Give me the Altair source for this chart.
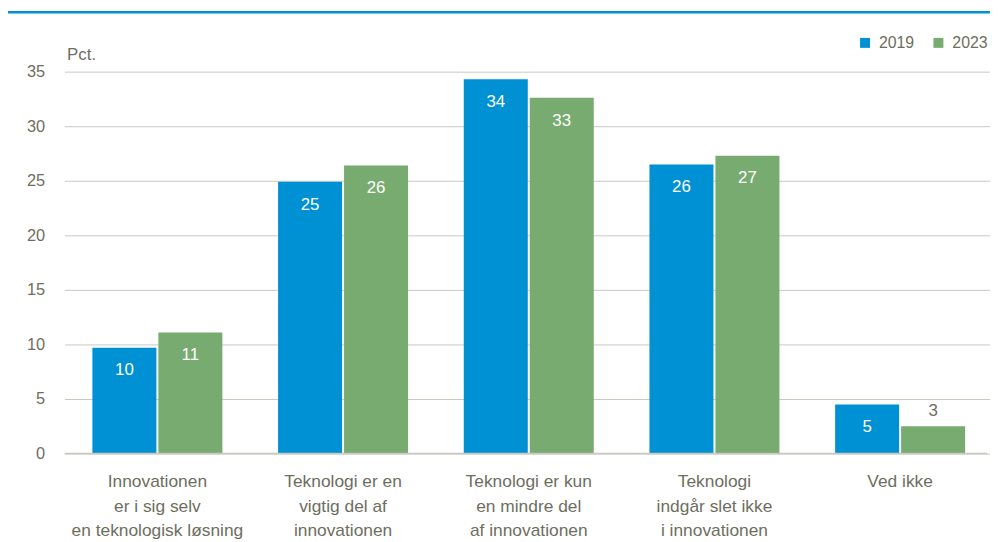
import altair as alt
import pandas as pd

categories = [
    "Innovationen\ner i sig selv\nen teknologisk løsning",
    "Teknologi er en\nvigtig del af\ninnovationen",
    "Teknologi er kun\nen mindre del\naf innovationen",
    "Teknologi\nindgår slet ikke\ni innovationen",
    "Ved ikke",
]
years = ["2019", "2023"]
values_2019 = [9.7, 24.9, 34.3, 26.5, 4.5]
values_2023 = [11.1, 26.4, 32.6, 27.3, 2.5]
labels_2019 = ["10", "25", "34", "26", "5"]
labels_2023 = ["11", "26", "33", "27", "3"]

rows = []
for c, v, l in zip(categories, values_2019, labels_2019):
    rows.append({"cat": c, "year": "2019", "value": v, "label": l})
for c, v, l in zip(categories, values_2023, labels_2023):
    rows.append({"cat": c, "year": "2023", "value": v, "label": l})
df = pd.DataFrame(rows)

BLUE = "#0090D4"
GREEN = "#77AB6F"
GREY = "#6E6E60"
FONT = "Liberation Sans"

x_enc = alt.X(
    "cat:N", sort=categories, title=None,
    scale=alt.Scale(paddingInner=0.3, paddingOuter=0.15, range=[0, 936]),
    axis=alt.Axis(labelExpr="split(datum.label, '\\n')", labelAngle=0,
                  labelFontSize=17.5, labelColor=GREY, labelFont=FONT,
                  labelLineHeight=25, labelPadding=19, ticks=False,
                  domain=False, labelBaseline="top"),
)
xo_enc = alt.XOffset("year:N", sort=years, scale=alt.Scale(paddingInner=0.03))

base = alt.Chart(df)

bars = base.mark_bar().encode(
    x=x_enc,
    xOffset=xo_enc,
    y=alt.Y("value:Q", scale=alt.Scale(domain=[0, 35]),
            axis=alt.Axis(values=[0, 5, 10, 15, 20, 25, 30, 35], title="Pct.",
                          titleAngle=0, titleX=2, titleY=-12, titleAlign="left",
                          titleBaseline="alphabetic", titleFontSize=17,
                          titleFontWeight="normal", titleColor=GREY, titleFont=FONT,
                          labelFontSize=16.5, labelColor=GREY, labelFont=FONT,
                          labelPadding=20, ticks=False, domain=False,
                          gridColor="#C8C8C0", gridWidth=1)),
    color=alt.Color("year:N", sort=years,
                    scale=alt.Scale(domain=years, range=[BLUE, GREEN]),
                    legend=alt.Legend(title=None, orient="none", direction="horizontal",
                                      legendX=799, legendY=-37, symbolType="square",
                                      symbolSize=100, symbolStrokeWidth=0,
                                      labelFontSize=16, labelColor=GREY, labelFont=FONT,
                                      columnPadding=16, labelOffset=6)),
)

inside = base.transform_filter("datum.value >= 4").mark_text(
    fontSize=17, font=FONT, baseline="middle", dy=23, color="white"
).encode(
    x=alt.X("cat:N", sort=categories),
    xOffset=xo_enc,
    y=alt.Y("value:Q"),
    text="label:N",
)

outside = base.transform_filter("datum.value < 4").mark_text(
    fontSize=17, font=FONT, baseline="middle", dy=-15, color=GREY
).encode(
    x=alt.X("cat:N", sort=categories),
    xOffset=xo_enc,
    y=alt.Y("value:Q"),
    text="label:N",
)

line_df = pd.DataFrame({"k": [0]})
topline = alt.Chart(line_df).mark_rule(color=BLUE, strokeWidth=2.5).encode(
    x=alt.value(-61), x2=alt.value(935), y=alt.value(-60)
)
baseline = alt.Chart(line_df).mark_rule(color="#C8C8C0", strokeWidth=1.5).encode(
    x=alt.value(0), x2=alt.value(930), y=alt.value(385)
)

chart = alt.layer(bars, inside, outside, baseline, topline).properties(
    width=930, height=385,
    autosize=alt.AutoSizeParams(type="none"),
    padding={"left": 57, "top": 62, "right": 3, "bottom": 87},
).configure_view(stroke=None)

chart.save("out.html", embed_options={"renderer": "svg", "actions": False})
